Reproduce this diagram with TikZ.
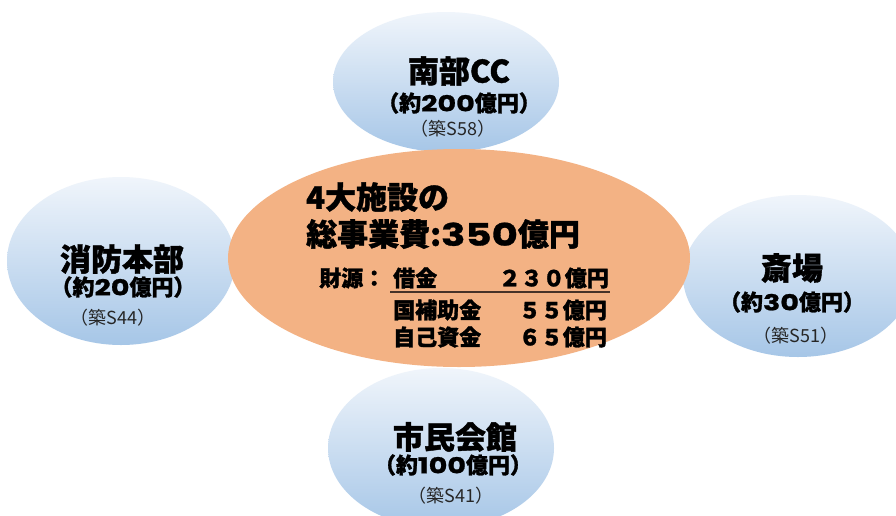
\documentclass[tikz,border=0pt]{standalone}
\usepackage{fontspec}
\newfontfamily\jp[BoldFeatures={FakeBold=1.3}]{Noto Sans CJK JP}
\newfontfamily\numfont[FakeStretch=1.3,BoldFeatures={FakeBold=1.0}]{Poppins}
\usetikzlibrary{shapes.geometric}
\definecolor{bluetop}{RGB}{240,245,251}
\definecolor{bluebot}{RGB}{166,198,231}
\definecolor{orangefill}{RGB}{243,178,132}
\definecolor{linecol}{RGB}{70,50,40}
\newcommand{\dgt}[1]{{\numfont\bfseries #1}}
\tikzset{
  blob/.style={ellipse, inner sep=0pt, top color=bluetop, bottom color=bluebot, draw=none},
  core/.style={ellipse, inner sep=0pt, fill=orangefill, draw=none},
  ttl/.style={font=\jp\bfseries\fontsize{31}{34}\selectfont, inner sep=0pt},
  amt/.style={font=\jp\bfseries\fontsize{22}{24}\selectfont, inner sep=0pt},
  yr/.style={font=\jp\fontsize{18}{20}\selectfont, inner sep=0pt, text=black!85},
  big/.style={font=\jp\bfseries\fontsize{31}{34}\selectfont, inner sep=0pt, anchor=west},
  fin/.style={font=\jp\bfseries\fontsize{22}{24}\selectfont, inner sep=0pt},
}
\begin{document}
\begin{tikzpicture}[x=1pt,y=1pt]
\useasboundingbox (0,0) rectangle (896,-515);
\fill[white] (0,0) rectangle (896,-515);
% blue ellipses
\node[blob, minimum width=226pt, minimum height=140pt] (topE) at (446,-82) {};
\node[blob, minimum width=228pt, minimum height=168pt] (leftE) at (121,-261) {};
\node[blob, minimum width=230pt, minimum height=162pt] (rightE) at (798,-276) {};
\node[blob, minimum width=226pt, minimum height=160pt] (botE) at (441,-448) {};
% central ellipse
\node[core, minimum width=462pt, minimum height=218pt] (coreE) at (459,-258) {};
% top
\node[ttl] (t1) at (459,-71) {南部CC};
\node[amt] (t2) at (459,-103) {（約\dgt{200}億円）};
\node[yr]  (t3) at (453,-129) {（築S58）};
% left
\node[ttl] (l1) at (122,-259) {消防本部};
\node[amt] (l2) at (123,-287) {（約\dgt{20}億円）};
\node[yr]  (l3) at (113,-318) {（築S44）};
% right
\node[ttl] (r1) at (792,-268) {斎場};
\node[amt] (r2) at (792,-302) {（約\dgt{30}億円）};
\node[yr]  (r3) at (796,-336) {（築S51）};
% bottom
\node[ttl] (b1) at (455,-437) {市民会館};
\node[amt] (b2) at (453,-465) {（約\dgt{100}億円）};
\node[yr]  (b3) at (451,-496) {（築S41）};
% center text
\node[big] (c1) at (306,-197) {4大施設の};
\node[big] (c2) at (306,-234) {総事業費:\dgt{350}億円};
\node[fin, anchor=west] (f0) at (319,-278) {財源：};
\node[fin, anchor=west] (f1) at (393,-278) {借金};
\node[fin, anchor=east] (f1v) at (609,-278) {２３０億円};
\node[fin, anchor=west] (f2) at (393,-310) {国補助金};
\node[fin, anchor=east] (f2v) at (607,-310) {５５億円};
\node[fin, anchor=west] (f3) at (393,-337) {自己資金};
\node[fin, anchor=east] (f3v) at (607,-337) {６５億円};
\coordinate (u0) at (390,-292);
\coordinate (u1) at (610,-292);
\draw[linecol, line width=1.3pt] (u0) -- (u1);
\end{tikzpicture}
\end{document}
